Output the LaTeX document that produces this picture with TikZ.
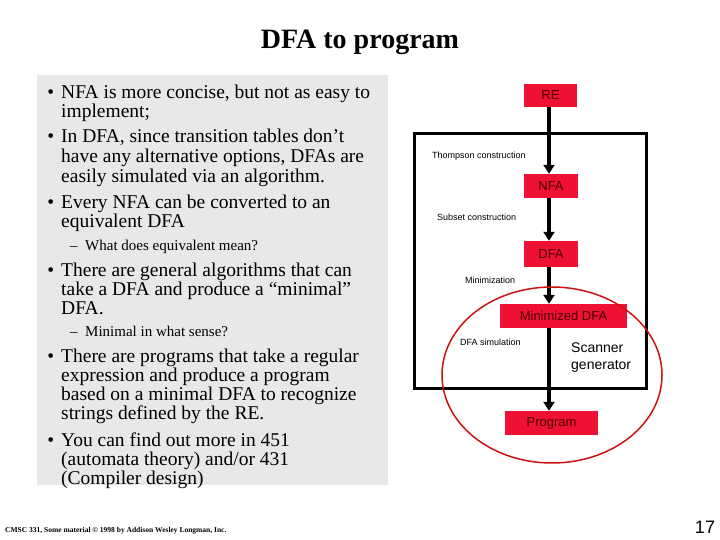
\documentclass[tikz,border=0pt]{standalone}
\usepackage{fontspec}
\setmainfont{Liberation Serif}
\newfontfamily\arial{Liberation Sans}
\usetikzlibrary{arrows.meta}
\definecolor{boxred}{HTML}{EE1133}
\definecolor{ellred}{HTML}{CC1111}
\begin{document}
\begin{tikzpicture}[x=1pt,y=-1pt,
  rbox/.style={fill=boxred,inner sep=0pt,font=\arial\fontsize{13}{13}\selectfont,text=black!70!red},
  lab/.style={font=\arial\fontsize{9}{9}\selectfont,anchor=west,inner sep=0pt},
  flow/.style={line width=4pt,-{Triangle[length=9pt,width=11pt]}},
  bl/.style={anchor=base west,inner sep=0pt,font=\fontsize{19.5}{19.5}\selectfont},
  sb/.style={anchor=base west,inner sep=0pt,font=\fontsize{15}{15}\selectfont}]
\useasboundingbox (0,0) rectangle (720,540);
\fill[black!9] (37,75) rectangle (388,485);
\node[font=\bfseries\fontsize{28}{28}\selectfont] (title) at (360,42) {DFA to program};
% bullets
\foreach \y/\b/\t in {93/1/NFA is more concise{,} but not as easy to, 112/0/implement;, 137/1/In DFA{,} since transition tables don’t, 157/0/have any alternative options{,} DFAs are, 177/0/easily simulated via an algorithm., 203/1/Every NFA can be converted to an, 222/0/equivalent DFA, 270/1/There are general algorithms that can, 289/0/take a DFA and produce a “minimal”, 308/0/DFA., 356/1/There are programs that take a regular, 375/0/expression and produce a program, 394/0/based on a minimal DFA to recognize, 413/0/strings defined by the RE., 440/1/You can find out more in 451, 459/0/{(automata theory) and/or 431}, 478/0/(Compiler design)}{
  \node[bl] at (61,\y+6) {\ifnum\b=1 \llap{•\hspace{7pt}}\fi\t};
}
\node[sb] (s1) at (70,250) {– \ What does equivalent mean?};
\node[sb] (s2) at (70,336) {– \ Minimal in what sense?};
\node[anchor=west,inner sep=0pt,font=\bfseries\fontsize{7.5}{7.5}\selectfont] (foot) at (5,531) {CMSC 331, Some material © 1998 by Addison Wesley Longman, Inc.};
\node[font=\arial\fontsize{18}{18}\selectfont] (pg) at (705,527) {17};
% diagram
\draw[line width=3pt] (414,134) rectangle (646,388);
\node[rbox,minimum width=53pt,minimum height=23pt] (re) at (550.5,95.5) {RE};
\node[rbox,minimum width=54pt,minimum height=24pt] (nfa) at (551,186) {NFA};
\node[rbox,minimum width=54pt,minimum height=26pt] (dfa) at (551,254) {DFA};
\node[rbox,minimum width=127pt,minimum height=24pt] (mdfa) at (563.5,316) {Minimized DFA};
\node[rbox,minimum width=93pt,minimum height=24pt] (prog) at (551.5,423) {Program};
\draw[flow] (re.south -| 549,0) -- (nfa.north -| 549,0);
\draw[flow] (nfa.south -| 549,0) -- (dfa.north -| 549,0);
\draw[flow] (dfa.south -| 549,0) -- (mdfa.north -| 549,0);
\draw[flow] (mdfa.south -| 549,0) -- (prog.north -| 549,0);
\node[lab] (l1) at (432,156) {Thompson construction};
\node[lab] (l2) at (437,217) {Subset construction};
\node[lab] (l3) at (465,280) {Minimization};
\node[lab] (l4) at (460,342) {DFA simulation};
\node[anchor=west,inner sep=0pt,align=left,font=\arial\fontsize{14}{17}\selectfont] (sg) at (571,358) {Scanner\\generator};
\draw[ellred,line width=1.5pt] (552,375) ellipse [x radius=110, y radius=88];
\end{tikzpicture}
\end{document}
